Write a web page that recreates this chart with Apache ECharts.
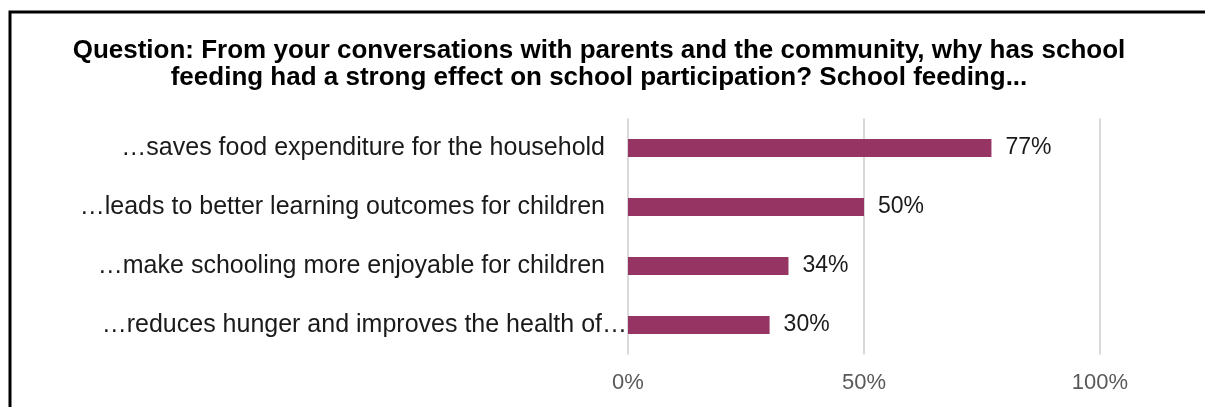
<!DOCTYPE html>
<html>
<head>
<meta charset="utf-8">
<script src="https://cdn.jsdelivr.net/npm/echarts@6/dist/echarts.min.js"></script>
<style>
  html, body { margin: 0; padding: 0; background: #fff; }
  #chart { width: 1205px; height: 407px; }
</style>
</head>
<body>
<div id="chart"></div>
<script>
// Reasons school feeding boosts participation (share of respondents, %)
const categories = [
  '…saves food expenditure for the household',
  '…leads to better learning outcomes for children',
  '…make schooling more enjoyable for children',
  '…reduces hunger and improves the health of…'
];
const shares = [77, 50, 34, 30];
const xTicks = [0, 50, 100];

const titleLines = [
  'Question: From your conversations with parents and the community, why has school',
  'feeding had a strong effect on school participation? School feeding...'
];

const chart = echarts.init(document.getElementById('chart'), null, { renderer: 'canvas' });

const font = 'Liberation Sans, Arial, Helvetica, sans-serif';

chart.setOption({
  animation: false,
  backgroundColor: '#ffffff',
  graphic: [
    {
      // frame around the figure
      type: 'rect',
      shape: { x: 10, y: 12, width: 1400, height: 600 },
      style: { fill: 'none', stroke: '#000', lineWidth: 3 },
      silent: true
    }
  ],
  title: {
    text: titleLines.join('\n'),
    left: 594,
    textAlign: 'center',
    top: 32,
    textStyle: {
      fontFamily: font,
      fontSize: 26,
      fontWeight: 'bold',
      color: '#000',
      lineHeight: 27
    }
  },
  grid: {
    left: 628,
    right: 105,
    top: 118.5,
    bottom: 52.5,
    containLabel: false
  },
  xAxis: {
    type: 'value',
    min: 0,
    max: 100,
    interval: 50,
    axisLine: { show: false },
    axisTick: { show: false },
    splitLine: { show: true, lineStyle: { color: '#d9d9d9', width: 2 } },
    axisLabel: {
      fontFamily: font,
      fontSize: 22,
      color: '#595959',
      margin: 17,
      formatter: v => (xTicks.includes(v) ? v + '%' : '')
    }
  },
  yAxis: {
    type: 'category',
    inverse: true,
    data: categories,
    axisLine: { show: false },
    axisTick: { show: false },
    axisLabel: {
      margin: 1,
      // the truncated last label runs right up to the axis
      formatter: (v, i) => (i === categories.length - 1 ? '{tight|' + v + '}' : '{std|' + v + '}'),
      rich: {
        std: { fontFamily: font, fontSize: 25, color: '#1a1a1a', padding: [0, 22, 0, 0] },
        tight: { fontFamily: font, fontSize: 25, color: '#1a1a1a', padding: [0, 0, 0, 0] }
      }
    }
  },
  series: [
    {
      type: 'bar',
      data: shares,
      barWidth: 18,
      itemStyle: { color: '#963563' },
      label: {
        show: true,
        position: 'right',
        distance: 14,
        fontFamily: font,
        fontSize: 23,
        color: '#1a1a1a',
        formatter: p => p.value + '%'
      }
    }
  ]
});
</script>
</body>
</html>
